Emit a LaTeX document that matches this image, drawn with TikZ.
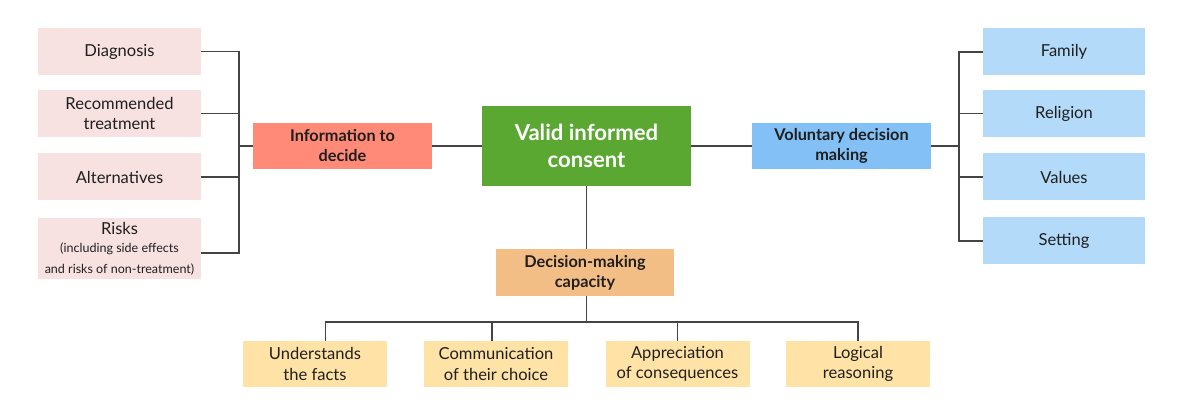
\documentclass[tikz,border=0pt]{standalone}
\usepackage{fontspec}
\setmainfont{Lato}
\definecolor{pinkleaf}{HTML}{F8E1E1}
\definecolor{salmon}{HTML}{FF8A78}
\definecolor{consentgreen}{HTML}{5AA832}
\definecolor{volblue}{HTML}{82C0F5}
\definecolor{blueleaf}{HTML}{B3DAF8}
\definecolor{capacityorange}{HTML}{F3BE85}
\definecolor{yellowleaf}{HTML}{FFE2A6}
\definecolor{linkgray}{HTML}{444444}
\newcommand{\smallrisk}{\fontsize{9.4}{11.5}\selectfont}
\begin{document}
\begin{tikzpicture}[x=0.75pt,y=-0.75pt,
    box/.style={shape=rectangle,inner sep=0pt,align=center,text=black!88,
        font=\fontsize{12.4}{15.5}\selectfont},
    head/.style={box,minimum width=134.25pt,minimum height=34.5pt,
        font=\fontsize{12.2}{15}\selectfont\bfseries},
    leftleaf/.style={box,fill=pinkleaf,minimum width=122.25pt,minimum height=35.25pt},
    rightleaf/.style={box,fill=blueleaf,minimum width=121.5pt,minimum height=35.25pt},
    lowleaf/.style={box,fill=yellowleaf,minimum width=108pt,minimum height=34.5pt},
    link/.style={draw=linkgray,line width=1pt}]
            \useasboundingbox (0,0) rectangle (1200,413);
            % centre
            \node[box,fill=consentgreen,text=white,minimum width=156.75pt,minimum height=60pt,
                font=\fontsize{16.6}{20.5}\selectfont\bfseries] (vic) at (586.5,146) {Valid informed\\consent};
            \node[head,fill=salmon] (info) at (342.5,146) {Information to\\decide};
            \node[head,fill=volblue] (vol) at (841.5,146) {Voluntary decision\\making};
            \node[head,fill=capacityorange,minimum width=133.5pt,minimum height=35.25pt] (cap) at (585,272.5) {Decision-making\\capacity};

            % information leaves
            \node[leftleaf] (diag) at (119.5,51.5) {Diagnosis};
            \node[leftleaf] (rec) at (119.5,113.5) {Recommended\\treatment};
            \node[leftleaf] (alt) at (119.5,177) {Alternatives};
            \node[leftleaf,minimum height=45.75pt] (risk) at (119.5,248.5) {Risks\\[-2pt]\smallrisk(including side effects\\\smallrisk and risks of non-treatment)};

            % voluntary leaves
            \node[rightleaf] (fam) at (1064,52) {Family};
            \node[rightleaf] (rel) at (1064,113.5) {Religion};
            \node[rightleaf] (val) at (1064,177) {Values};
            \node[rightleaf] (set) at (1064,241) {Setting};

            % capacity leaves
            \node[lowleaf] (facts) at (315,364) {Understands\\the facts};
            \node[lowleaf] (comm) at (496,364) {Communication\\of their choice};
            \node[lowleaf] (appr) at (677.5,364) {Appreciation\\of consequences};
            \node[lowleaf] (logic) at (858,364) {Logical\\reasoning};

            % bus points
            \coordinate (lbus) at (239,146);
            \coordinate (rbus) at (959,146);
            \coordinate (bbus) at (586.5,322);

            % edges
            \path[link] (info) -- (vic) -- (vol);
            \path[link] (vic.south) -- (vic.south |- cap.north);
            \path[link] (cap.south -| bbus) -- (bbus);
            \path[link] (info.west) -- (lbus);
            \path[link] (diag.east) -| (lbus) |- ([yshift=-3.5pt]risk.east);
            \path[link] (rec.east) -- (rec.east -| lbus);
            \path[link] (alt.east) -- (alt.east -| lbus);
            \path[link] (vol.east) -- (rbus);
            \path[link] (fam.west) -| (rbus) |- (set.west);
            \path[link] (rel.west) -- (rel.west -| rbus);
            \path[link] (val.west) -- (val.west -| rbus);
            \path[link] ([xshift=8pt]facts.north) |- (bbus) -| (logic.north);
            \path[link] ([xshift=-3pt]comm.north) -- ([xshift=-3pt]comm.north |- bbus);
            \path[link] (appr.north) -- (appr.north |- bbus);
        \end{tikzpicture}
\end{document}
